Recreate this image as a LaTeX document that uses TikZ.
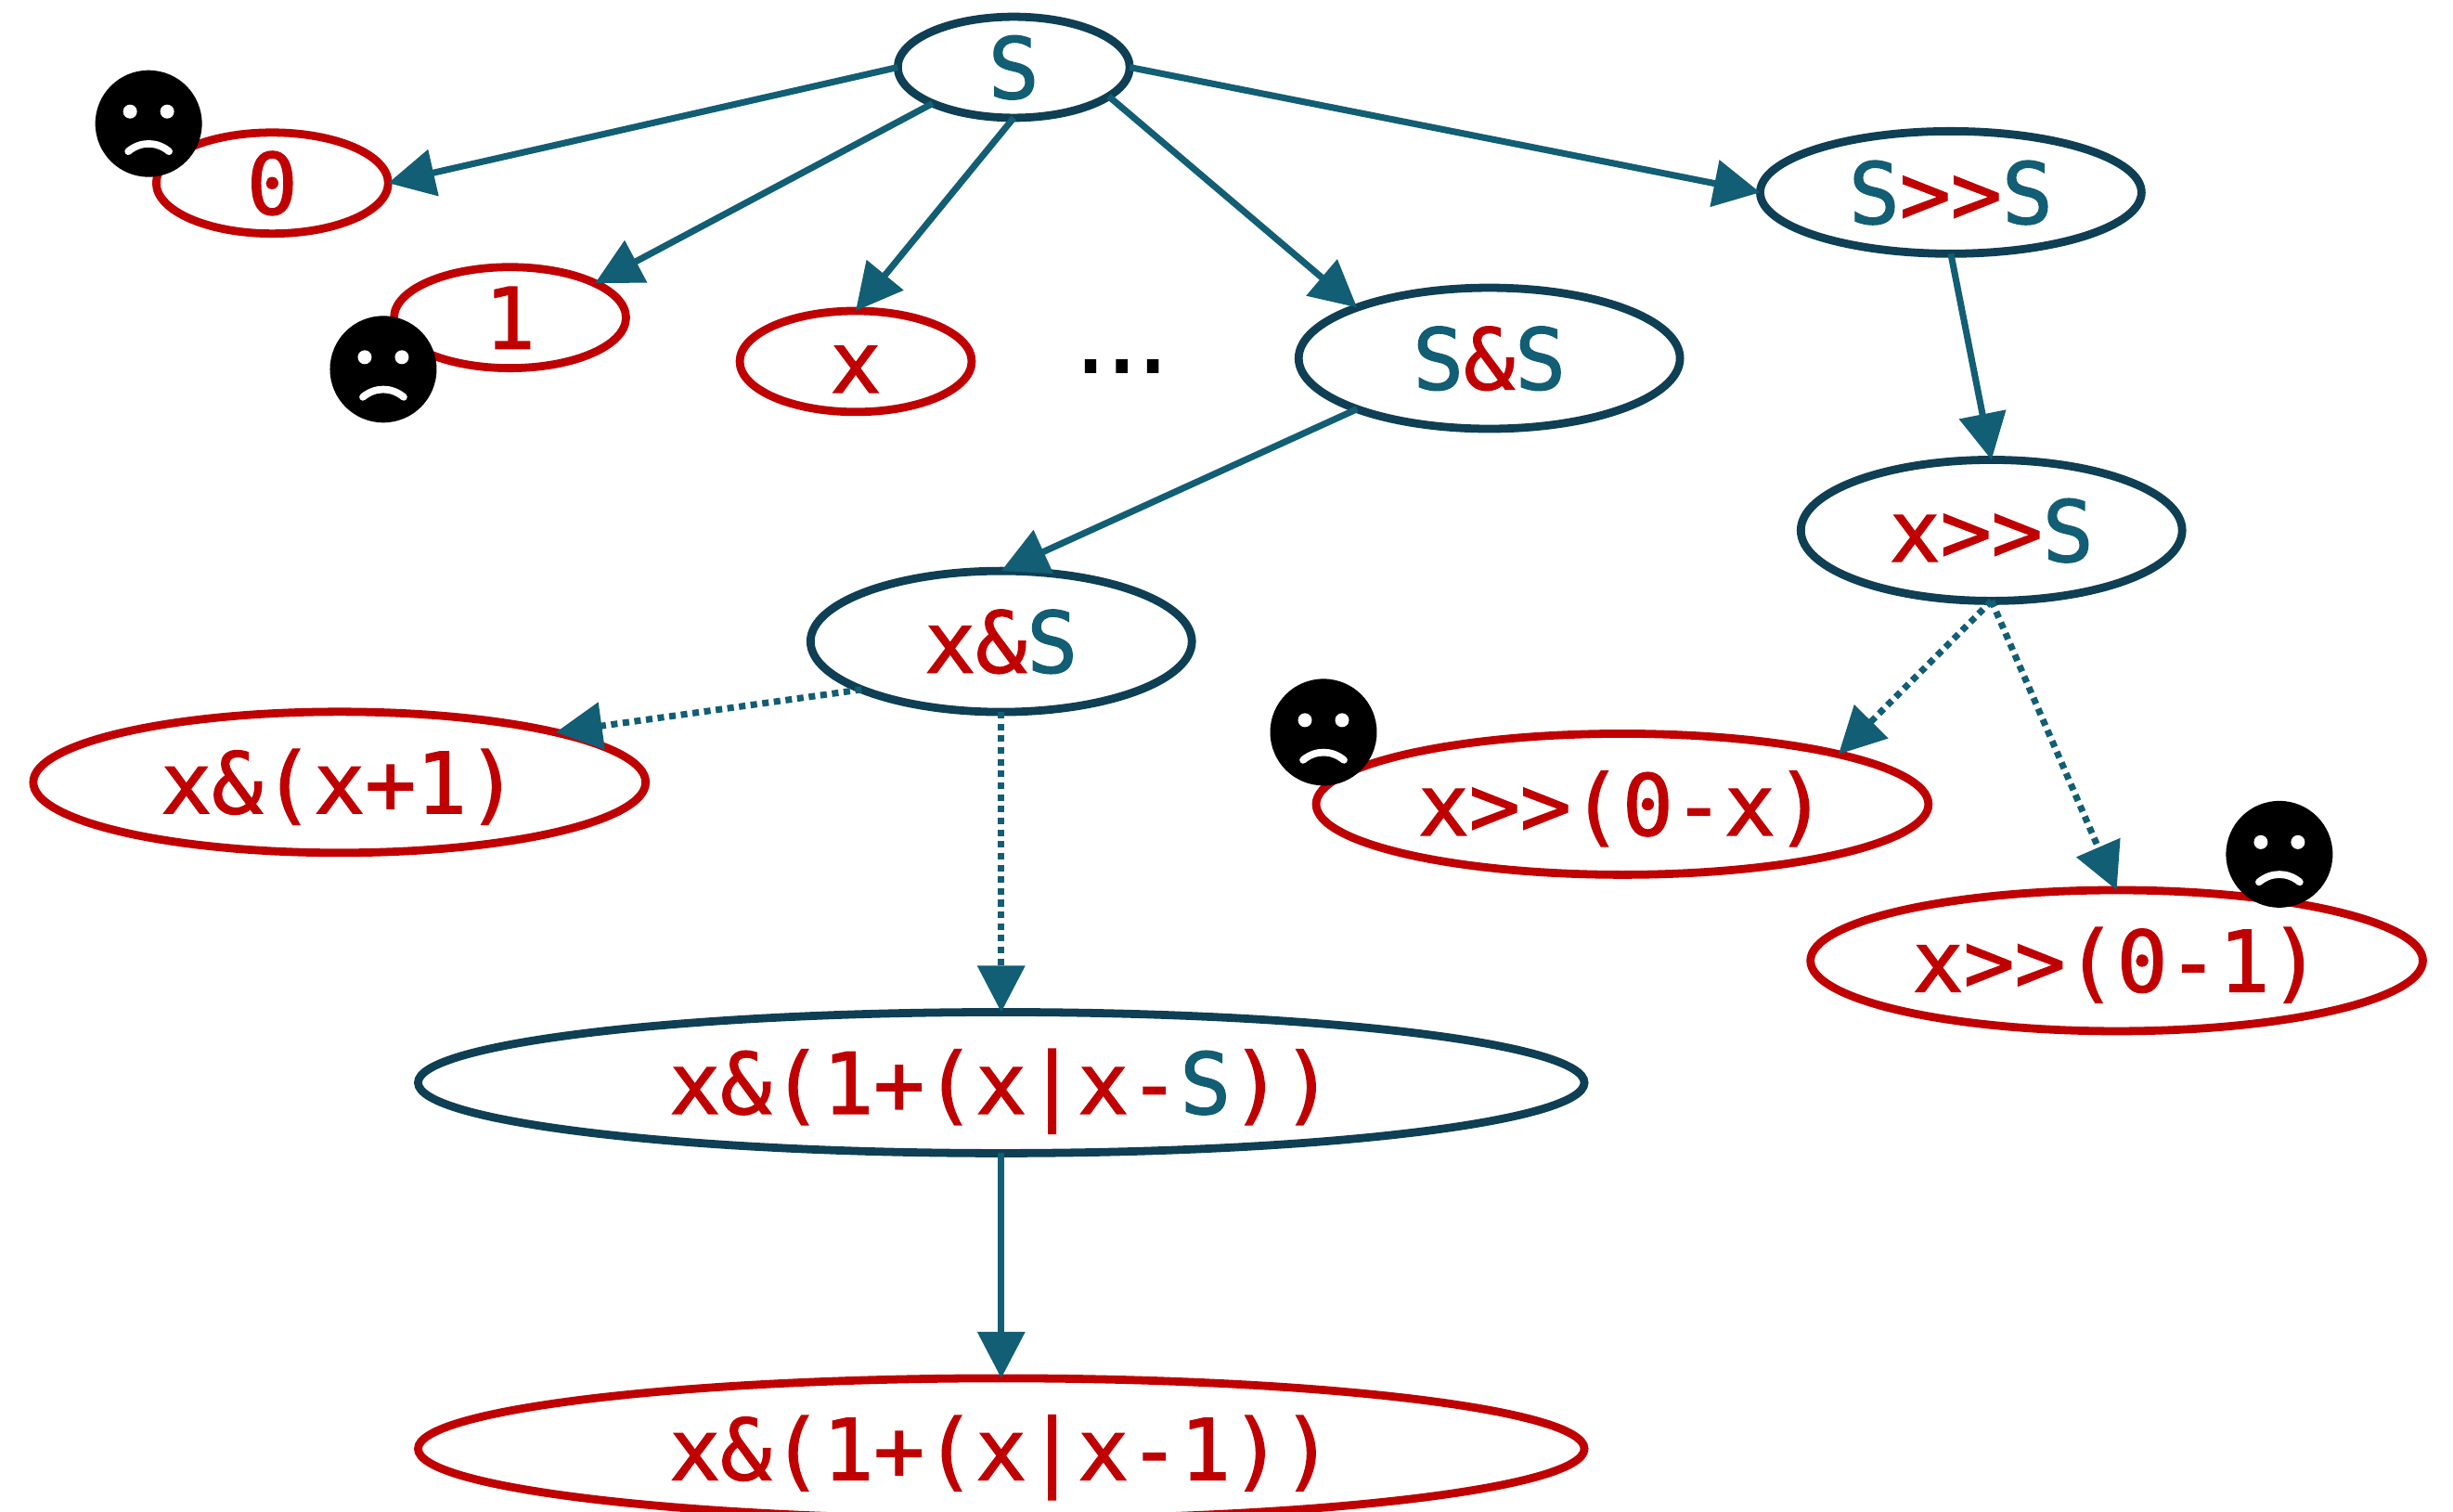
\documentclass[tikz,border=0pt]{standalone}
\usepackage{fontspec}
\setmainfont[FakeBold=1.5]{DejaVu Sans}
\setmonofont[FakeBold=1.5]{DejaVu Sans Mono}
\usetikzlibrary{positioning,arrows.meta,shapes.geometric}
\definecolor{RedTerm}{RGB}{192,0,0}
\definecolor{TealTerm}{RGB}{18,94,116}
\definecolor{DarkEdge}{RGB}{14,63,84}
\newcommand{\nt}{\textcolor{TealTerm}{S}}
\newcommand{\sadface}[2]{%
    \node[face] (#1) at (#2) {};
    \fill[white] ([xshift=-0.2cm,yshift=0.13cm]#1.center) circle (0.075cm);
    \fill[white] ([xshift=0.2cm,yshift=0.13cm]#1.center) circle (0.075cm);
    \draw[white, line width=2.2pt, line cap=round] ([xshift=-0.22cm,yshift=-0.3cm]#1.center) to[bend left=40] ([xshift=0.22cm,yshift=-0.3cm]#1.center);
}

\begin{document}
\begin{tikzpicture}[
    x=0.016856cm, y=-0.016856cm,
    term/.style={ellipse, draw=RedTerm, line width=2.5pt, inner sep=0pt, outer sep=0pt, text=RedTerm,
        text height=0.72cm, text depth=0.05cm, font=\ttfamily\fontsize{26}{30}\selectfont},
    open/.style={term, draw=DarkEdge},
    small/.style={minimum width=2.5cm, minimum height=1.08cm},
    mid/.style={minimum width=4.11cm, minimum height=1.52cm},
    wide/.style={minimum width=6.6cm, minimum height=1.52cm},
    huge/.style={minimum width=12.57cm, minimum height=1.52cm},
    face/.style={circle, fill=black, minimum size=1.15cm, inner sep=0pt},
    arrow/.style={-{Triangle[length=0.5cm,width=0.5cm]}, TealTerm, line width=2pt},
    dotarrow/.style={arrow, dash pattern=on 2pt off 1.6pt}
]
\useasboundingbox (0,0) rectangle (1568,966.4);
\node[open, small] (s) at (648,43) {\nt};
\node[term, small] (zero) at (174,117) {0};
\node[term, small] (one) at (326,203) {1};
\node[term, small] (x) at (547,231) {x};
\node[font=\fontsize{30}{34}\selectfont] (dots) at (717,234) {...};
\node[open, mid] (and) at (952,229) {\nt\textcolor{RedTerm}{\&}\nt};
\node[open, mid, minimum height=1.32cm] (shift) at (1247,123) {\nt\textcolor{RedTerm}{>>}\nt};
\node[open, mid] (xshift) at (1273,339) {x>>\nt};
\node[open, mid] (xand) at (640,410) {x\&\nt};
\node[term, wide] (xinc) at (217,500) {x\&(x+1)};
\node[term, wide] (xneg) at (1037,514) {x>>(0-x)};
\node[term, wide] (xmone) at (1353,614) {x>>(0-1)};
\node[open, huge] (hole) at (640,692) {x\&(1+(x|x-\nt))};
\node[term, huge] (done) at (640,926) {x\&(1+(x|x-1))};
\draw[arrow] (s.west) -- (zero.east);
\draw[arrow] (s.204) -- (one.22);
\draw[arrow] (s.south) -- (x.north);
\draw[arrow] (s.343) -- (and.159);
\draw[arrow] (s.east) -- (shift.west);
\draw[arrow] (shift.south) -- (xshift.north);
\draw[arrow] (and.201) -- (xand.north);
\draw[dotarrow] (xand.199) -- (xinc.13);
\draw[dotarrow] (xand.south) -- (hole.north);
\draw[dotarrow] (xshift.south) -- (xneg.13);
\draw[dotarrow] (xshift.south) -- (xmone.north);
\draw[arrow] (hole.south) -- (done.north);
\sadface{faceA}{95,79}
\sadface{faceB}{245,236}
\sadface{faceC}{846,468}
\sadface{faceD}{1457,546}
\end{tikzpicture}
\end{document}
